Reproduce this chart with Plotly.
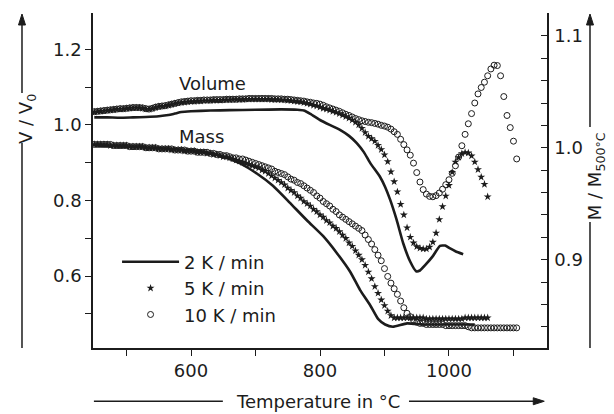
import plotly.graph_objects as go

# ---------------- data ----------------
# temperature grid of the 5 K/min and 10 K/min measurements (deg C)
T5 = [450, 455, 460, 465, 470, 475, 480, 485, 490, 495,
      500, 505, 510, 515, 520, 525, 530, 535, 540, 545,
      550, 555, 560, 565, 570, 575, 580, 585, 590, 595,
      600, 605, 610, 615, 620, 625, 630, 635, 640, 645,
      650, 655, 660, 665, 670, 675, 680, 685, 690, 695,
      700, 705, 710, 715, 720, 725, 730, 735, 740, 745,
      750, 755, 760, 765, 770, 775, 780, 785, 790, 795,
      800, 805, 810, 815, 820, 825, 830, 835, 840, 845,
      850, 855, 860, 865, 870, 875, 880, 885, 890, 895,
      900, 905, 910, 915, 920, 925, 930, 935, 940, 945,
      950, 955, 960, 965, 970, 975, 980, 985, 990, 995,
      1000, 1005, 1010, 1015, 1020, 1025, 1030, 1035, 1040, 1045,
      1050, 1055, 1060]

T10 = [450, 455, 460, 465, 470, 475, 480, 485, 490, 495,
       500, 505, 510, 515, 520, 525, 530, 535, 540, 545,
       550, 555, 560, 565, 570, 575, 580, 585, 590, 595,
       600, 605, 610, 615, 620, 625, 630, 635, 640, 645,
       650, 655, 660, 665, 670, 675, 680, 685, 690, 695,
       700, 705, 710, 715, 720, 725, 730, 735, 740, 745,
       750, 755, 760, 765, 770, 775, 780, 785, 790, 795,
       800, 805, 810, 815, 820, 825, 830, 835, 840, 845,
       850, 855, 860, 865, 870, 875, 880, 885, 890, 895,
       900, 905, 910, 915, 920, 925, 930, 935, 940, 945,
       950, 955, 960, 965, 970, 975, 980, 985, 990, 995,
       1000, 1005, 1010, 1015, 1020, 1025, 1030, 1035, 1040, 1045,
       1050, 1055, 1060, 1065, 1070, 1075, 1080, 1085, 1090, 1095,
       1100, 1105]

# V / V0, 5 K/min (stars)
vol_5 = [1.034, 1.035, 1.036, 1.037, 1.038, 1.039, 1.040, 1.041, 1.042, 1.042,
         1.043, 1.044, 1.045, 1.045, 1.045, 1.044, 1.042, 1.041, 1.043, 1.046,
         1.048, 1.049, 1.050, 1.052, 1.054, 1.056, 1.058, 1.059, 1.060, 1.061,
         1.062, 1.062, 1.063, 1.063, 1.064, 1.064, 1.064, 1.065, 1.065, 1.065,
         1.066, 1.066, 1.066, 1.067, 1.067, 1.067, 1.067, 1.068, 1.068, 1.068,
         1.068, 1.068, 1.068, 1.068, 1.068, 1.067, 1.067, 1.067, 1.066, 1.066,
         1.065, 1.064, 1.063, 1.062, 1.061, 1.059, 1.057, 1.055, 1.052, 1.050,
         1.047, 1.044, 1.042, 1.039, 1.036, 1.033, 1.030, 1.026, 1.022, 1.018,
         1.013, 1.007, 1.000, 0.991, 0.980, 0.970, 0.964, 0.957, 0.946, 0.935,
         0.921, 0.903, 0.876, 0.850, 0.823, 0.790, 0.762, 0.728, 0.703, 0.688,
         0.678, 0.674, 0.672, 0.672, 0.677, 0.690, 0.714, 0.750, 0.784, 0.812,
         0.840, 0.875, 0.902, 0.914, 0.924, 0.927, 0.926, 0.918, 0.902, 0.882,
         0.862, 0.843, 0.810]

# M / M500, 5 K/min (stars)
mass_5 = [1.003, 1.003, 1.003, 1.003, 1.003, 1.002, 1.002, 1.002, 1.002, 1.002,
          1.002, 1.001, 1.001, 1.001, 1.001, 1.001, 1.000, 1.000, 1.000, 1.000,
          0.999, 0.999, 0.999, 0.999, 0.998, 0.998, 0.998, 0.998, 0.997, 0.997,
          0.997, 0.997, 0.996, 0.996, 0.996, 0.995, 0.995, 0.994, 0.994, 0.993,
          0.992, 0.992, 0.991, 0.990, 0.989, 0.988, 0.987, 0.986, 0.985, 0.984,
          0.983, 0.982, 0.980, 0.979, 0.977, 0.975, 0.973, 0.971, 0.969, 0.967,
          0.964, 0.962, 0.960, 0.957, 0.955, 0.952, 0.950, 0.948, 0.945, 0.943,
          0.940, 0.938, 0.935, 0.933, 0.930, 0.928, 0.925, 0.922, 0.919, 0.915,
          0.912, 0.908, 0.904, 0.900, 0.895, 0.889, 0.883, 0.876, 0.870, 0.864,
          0.859, 0.854, 0.850, 0.848, 0.848, 0.848, 0.848, 0.848, 0.848, 0.848,
          0.848, 0.848, 0.848, 0.847, 0.847, 0.847, 0.847, 0.847, 0.847, 0.847,
          0.847, 0.847, 0.847, 0.847, 0.847, 0.848, 0.848, 0.848, 0.848, 0.848,
          0.848, 0.848, 0.848]

# V / V0, 10 K/min (circles)
vol_10 = [1.035, 1.036, 1.037, 1.038, 1.039, 1.040, 1.041, 1.042, 1.043, 1.043,
          1.044, 1.045, 1.046, 1.046, 1.046, 1.045, 1.043, 1.042, 1.044, 1.047,
          1.049, 1.050, 1.051, 1.053, 1.055, 1.057, 1.059, 1.061, 1.062, 1.063,
          1.064, 1.064, 1.065, 1.065, 1.066, 1.066, 1.066, 1.067, 1.067, 1.067,
          1.067, 1.068, 1.068, 1.068, 1.068, 1.069, 1.069, 1.069, 1.070, 1.070,
          1.070, 1.070, 1.070, 1.070, 1.070, 1.070, 1.069, 1.069, 1.069, 1.068,
          1.068, 1.067, 1.066, 1.065, 1.064, 1.063, 1.061, 1.060, 1.058, 1.057,
          1.055, 1.052, 1.048, 1.045, 1.042, 1.039, 1.036, 1.032, 1.028, 1.025,
          1.021, 1.017, 1.014, 1.011, 1.009, 1.007, 1.006, 1.004, 1.002, 0.999,
          0.997, 0.994, 0.989, 0.982, 0.975, 0.962, 0.948, 0.934, 0.920, 0.899,
          0.874, 0.849, 0.829, 0.817, 0.811, 0.810, 0.813, 0.820, 0.830, 0.842,
          0.855, 0.872, 0.892, 0.915, 0.945, 0.975, 1.003, 1.030, 1.058, 1.082,
          1.099, 1.113, 1.130, 1.148, 1.158, 1.157, 1.130, 1.075, 1.025, 0.993,
          0.957, 0.910]

# M / M500, 10 K/min (circles)
mass_10 = [1.003, 1.003, 1.003, 1.003, 1.003, 1.003, 1.002, 1.002, 1.002, 1.002,
           1.002, 1.001, 1.001, 1.001, 1.001, 1.001, 1.000, 1.000, 1.000, 1.000,
           0.999, 0.999, 0.999, 0.999, 0.999, 0.998, 0.998, 0.998, 0.998, 0.997,
           0.997, 0.997, 0.996, 0.996, 0.996, 0.996, 0.995, 0.995, 0.994, 0.994,
           0.993, 0.993, 0.992, 0.991, 0.991, 0.990, 0.990, 0.989, 0.988, 0.987,
           0.986, 0.985, 0.984, 0.983, 0.982, 0.981, 0.979, 0.978, 0.977, 0.976,
           0.974, 0.972, 0.971, 0.969, 0.968, 0.966, 0.964, 0.962, 0.960, 0.957,
           0.955, 0.952, 0.950, 0.948, 0.945, 0.943, 0.940, 0.938, 0.936, 0.934,
           0.932, 0.930, 0.928, 0.926, 0.922, 0.918, 0.914, 0.909, 0.904, 0.899,
           0.892, 0.885, 0.879, 0.874, 0.869, 0.863, 0.857, 0.852, 0.849, 0.846,
           0.844, 0.843, 0.843, 0.842, 0.842, 0.842, 0.842, 0.842, 0.842, 0.841,
           0.841, 0.841, 0.841, 0.841, 0.841, 0.841, 0.840, 0.839, 0.839, 0.839,
           0.839, 0.839, 0.839, 0.839, 0.839, 0.839, 0.839, 0.839, 0.839, 0.839,
           0.839, 0.839]

# 2 K/min (solid lines)
T2_vol = [450, 470, 490, 510, 530, 550, 565, 575, 585, 600, 630, 660, 700, 740,
          765, 775, 785, 800, 815, 831, 845, 857, 868, 878, 893, 901, 909, 919,
          929, 940, 949, 955, 963, 975, 986, 994, 1001, 1010, 1022]
vol_2 = [1.020, 1.020, 1.019, 1.020, 1.021, 1.023, 1.026, 1.030, 1.034, 1.036,
         1.038, 1.039, 1.040, 1.041, 1.040, 1.038, 1.029, 1.013, 1.000, 0.987,
         0.971, 0.952, 0.928, 0.899, 0.863, 0.836, 0.801, 0.748, 0.687, 0.638,
         0.613, 0.615, 0.629, 0.653, 0.680, 0.681, 0.674, 0.666, 0.658]

T2_mass = [450, 536, 614, 650, 676, 702, 727, 753, 780, 805, 826, 847, 862,
           878, 890, 901, 913, 935, 960, 994, 1040]
mass_2 = [1.002, 1.000, 0.997, 0.992, 0.986, 0.977, 0.966, 0.951, 0.935, 0.921,
          0.906, 0.889, 0.873, 0.859, 0.847, 0.842, 0.840, 0.843, 0.842, 0.842,
          0.842]

assert len(T5) == len(vol_5) == len(mass_5)
assert len(T10) == len(vol_10) == len(mass_10)
assert len(T2_vol) == len(vol_2) and len(T2_mass) == len(mass_2)

# ---------------- figure ----------------
INK = '#1c1c1c'
FONT = 'DejaVu Sans'

fig = go.Figure()
fig.add_trace(go.Scatter(x=T2_vol, y=vol_2, mode='lines', name='2 K / min',
                         line=dict(color=INK, width=2.6, shape='spline', smoothing=0.5)))
fig.add_trace(go.Scatter(x=T5, y=vol_5, mode='markers', name='5 K / min',
                         marker=dict(symbol='star', size=6, color=INK)))
fig.add_trace(go.Scatter(x=T10, y=vol_10, mode='markers', name='10 K / min',
                         marker=dict(symbol='circle-open', size=6, color=INK,
                                     line=dict(width=1, color=INK))))
fig.add_trace(go.Scatter(x=T2_mass, y=mass_2, mode='lines', yaxis='y2', showlegend=False,
                         line=dict(color=INK, width=2.6, shape='spline', smoothing=0.5)))
fig.add_trace(go.Scatter(x=T5, y=mass_5, mode='markers', yaxis='y2', showlegend=False,
                         marker=dict(symbol='star', size=6, color=INK)))
fig.add_trace(go.Scatter(x=T10, y=mass_10, mode='markers', yaxis='y2', showlegend=False,
                         marker=dict(symbol='circle-open', size=6, color=INK,
                                     line=dict(width=1, color=INK))))

axis_common = dict(showgrid=False, zeroline=False, showline=True, linecolor=INK,
                   linewidth=1.5, tickcolor=INK, tickwidth=1.3, ticklen=6, automargin=False,
                   tickfont=dict(family=FONT, size=18, color=INK))

# the page body adds an 8 px offset, so the figure is 8 px smaller on each side
fig.update_layout(
    width=606, height=406,
    margin=dict(l=85, r=67, t=5, b=66, autoexpand=False),
    paper_bgcolor='white', plot_bgcolor='white',
    font=dict(family=FONT, size=18, color=INK),
    xaxis=dict(range=[448, 1152], tickmode='linear', tick0=0, dtick=200, ticks='outside',
               minor=dict(dtick=100, ticks='outside', ticklen=6, tickwidth=1.3, tickcolor=INK),
               ticklabelstandoff=0, **axis_common),
    xaxis2=dict(range=[448, 1152], overlaying='x', side='top', tickmode='linear', tick0=0,
                dtick=100, ticks='inside', showticklabels=False, **axis_common),
    yaxis=dict(range=[0.41, 1.296], tickmode='linear', tick0=0, dtick=0.2, ticks='outside',
               tickformat='.1f',
               minor=dict(dtick=0.1, ticks='outside', ticklen=6, tickwidth=1.3, tickcolor=INK),
               ticklabelstandoff=0, **axis_common),
    yaxis2=dict(range=[0.821, 1.1205], overlaying='y', side='right', tickmode='linear',
                tick0=0, dtick=0.1, ticks='inside', tickformat='.1f',
                minor=dict(dtick=0.02, ticks='inside', ticklen=6, tickwidth=1.3, tickcolor=INK),
                ticklabelstandoff=2, **axis_common),
    showlegend=True,
    legend=dict(x=0.053, y=0.312, xanchor='left', yanchor='top', bgcolor='rgba(0,0,0,0)',
                font=dict(family=FONT, size=18, color=INK), itemwidth=57,
                tracegroupgap=0),
)

# curve labels
fig.add_annotation(text='Volume', x=0.185, y=0.791, xref='paper', yref='paper',
                   xanchor='left', yanchor='middle', showarrow=False)
fig.add_annotation(text='Mass', x=0.185, y=0.63, xref='paper', yref='paper',
                   xanchor='left', yanchor='middle', showarrow=False)

LINE = dict(color=INK, width=1.5)


def arrow_head(x, y, path):
    fig.add_shape(type='path', xref='paper', yref='paper', xsizemode='pixel',
                  ysizemode='pixel', xanchor=x, yanchor=y, path=path,
                  fillcolor=INK, line=dict(color=INK, width=1))


UP = 'M0,0 L-3.5,-11 L3.5,-11 Z'
RIGHT = 'M0,0 L-11,3.5 L-11,-3.5 Z'

# left title: V / V0 with arrow
fig.add_annotation(text='V / V<sub>0</sub>', textangle=-90, x=-0.1454, y=0.6836,
                   xref='paper', yref='paper', xanchor='center', yanchor='middle',
                   showarrow=False)
fig.add_shape(type='line', xref='paper', yref='paper', x0=-0.1564, x1=-0.1564,
              y0=0.0, y1=0.612, line=LINE)
fig.add_shape(type='line', xref='paper', yref='paper', x0=-0.1564, x1=-0.1564,
              y0=0.761, y1=0.975, line=LINE)
arrow_head(-0.1564, 0.997, UP)

# right title: M / M500°C with arrow
fig.add_annotation(text='M / M<sub>500°C</sub>', textangle=-90, x=1.108, y=0.513,
                   xref='paper', yref='paper', xanchor='center', yanchor='middle',
                   showarrow=False)
fig.add_shape(type='line', xref='paper', yref='paper', x0=1.0947, x1=1.0947,
              y0=0.0, y1=0.376, line=LINE)
fig.add_shape(type='line', xref='paper', yref='paper', x0=1.0947, x1=1.0947,
              y0=0.66, y1=0.975, line=LINE)
arrow_head(1.0947, 0.997, UP)

# bottom title with arrow
TY = -0.159
fig.add_annotation(text='Temperature in °C', x=0.4956, y=TY, xref='paper', yref='paper',
                   xanchor='center', yanchor='middle', showarrow=False)
fig.add_shape(type='line', xref='paper', yref='paper', x0=0.002, x1=0.286,
              y0=TY, y1=TY, line=LINE)
fig.add_shape(type='line', xref='paper', yref='paper', x0=0.696, x1=0.975,
              y0=TY, y1=TY, line=LINE)
arrow_head(0.994, TY, RIGHT)

fig.write_html('out.html')
